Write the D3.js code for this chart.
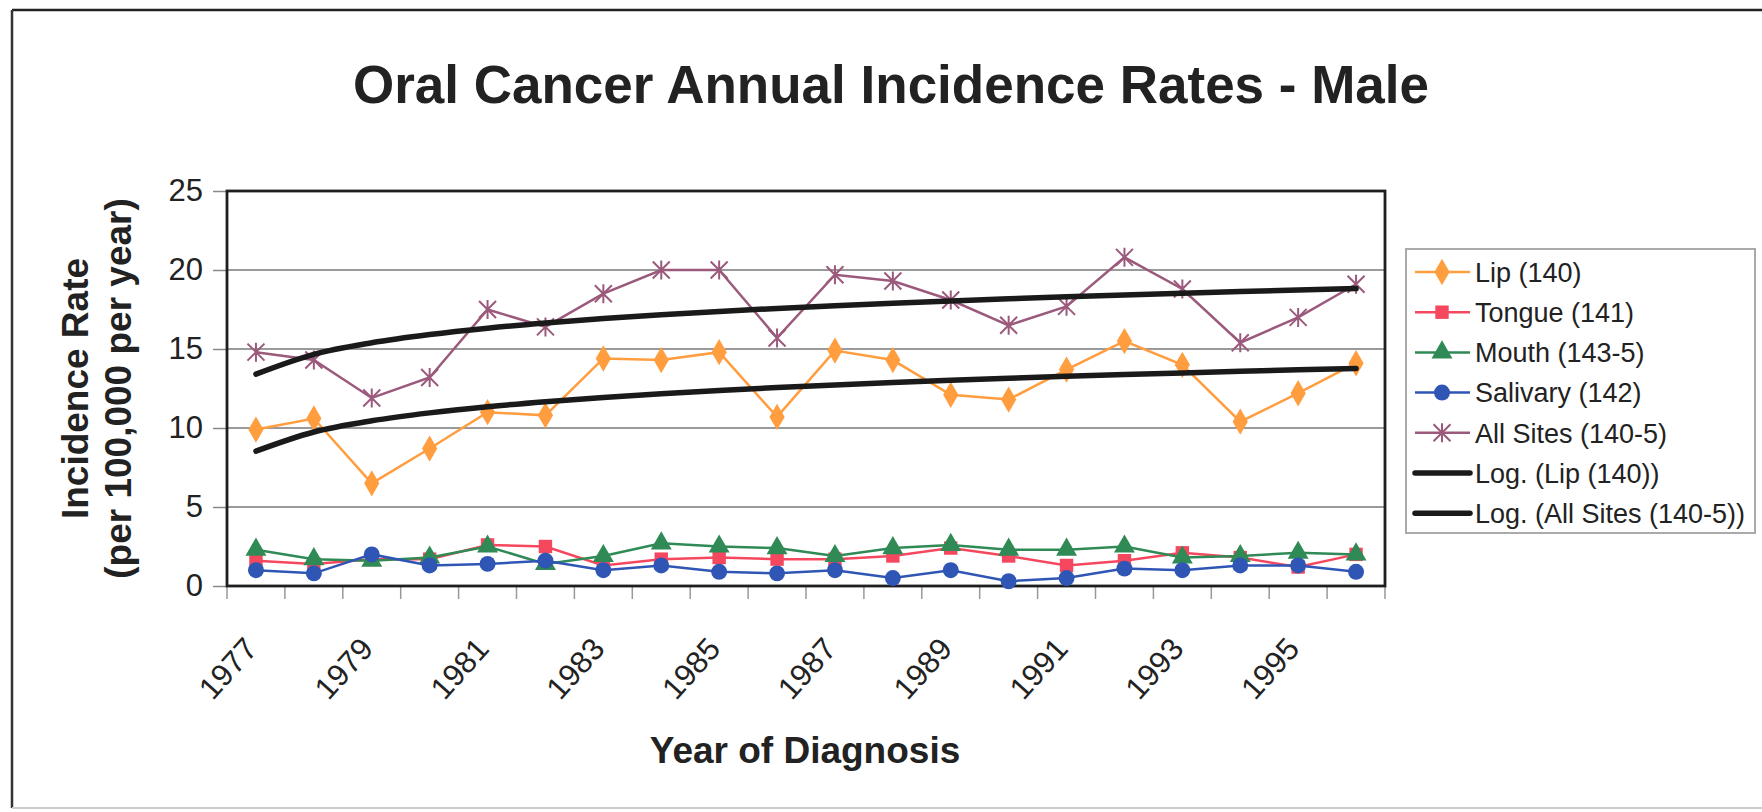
<!DOCTYPE html>
<html>
<head>
<meta charset="utf-8">
<script src="https://cdn.jsdelivr.net/npm/d3@7"></script>
<style>
  body { margin: 0; background: #fff; }
  svg { display: block; font-family: Arial, "Liberation Sans", sans-serif; }
  text { fill: #222; }
</style>
</head>
<body>
<div id="okvir"></div>
<script>
// 1. Data
const godine = [1977, 1978, 1979, 1980, 1981, 1982, 1983, 1984, 1985, 1986,
                1987, 1988, 1989, 1990, 1991, 1992, 1993, 1994, 1995, 1996]
const oznakeX = [1977, 1979, 1981, 1983, 1985, 1987, 1989, 1991, 1993, 1995]
const oznakeY = [0, 5, 10, 15, 20, 25]

const lip      = [9.9, 10.6, 6.5, 8.7, 11.0, 10.8, 14.4, 14.3, 14.8, 10.7, 14.9, 14.3, 12.1, 11.8, 13.7, 15.5, 14.0, 10.4, 12.2, 14.1]
const tongue   = [1.6, 1.4, 1.7, 1.7, 2.6, 2.5, 1.3, 1.7, 1.8, 1.7, 1.7, 1.9, 2.4, 1.9, 1.3, 1.6, 2.1, 1.8, 1.2, 2.0]
const mouth    = [2.3, 1.7, 1.6, 1.8, 2.5, 1.4, 1.9, 2.7, 2.5, 2.4, 1.9, 2.4, 2.6, 2.3, 2.3, 2.5, 1.8, 1.9, 2.1, 2.0]
const salivary = [1.0, 0.8, 2.0, 1.3, 1.4, 1.6, 1.0, 1.3, 0.9, 0.8, 1.0, 0.5, 1.0, 0.3, 0.5, 1.1, 1.0, 1.3, 1.3, 0.9]
const allSites = [14.8, 14.3, 11.9, 13.2, 17.5, 16.4, 18.5, 20.0, 20.0, 15.7, 19.7, 19.3, 18.1, 16.5, 17.7, 20.8, 18.8, 15.4, 17.0, 19.1]

const serije = [
  { ime: "Lip (140)",          vrijednosti: lip,      boja: "#ff9d3f", oblik: "diamond" },
  { ime: "Tongue (141)",       vrijednosti: tongue,   boja: "#f5485f", oblik: "square" },
  { ime: "Mouth (143-5)",      vrijednosti: mouth,    boja: "#2f8a55", oblik: "triangle" },
  { ime: "Salivary (142)",     vrijednosti: salivary, boja: "#2f55b5", oblik: "circle" },
  { ime: "All Sites (140-5)",  vrijednosti: allSites, boja: "#9b5a7c", oblik: "star" },
]

// logarithmic trendline (least squares on ln(x), x = 1..n), like Excel
function logTrend(vals) {
  const xs = vals.map((v, i) => Math.log(i + 1))
  const mx = d3.mean(xs), my = d3.mean(vals)
  const a = d3.sum(xs, (x, i) => (x - mx) * (vals[i] - my)) / d3.sum(xs, x => (x - mx) ** 2)
  const b = my - a * mx
  return vals.map((v, i) => a * Math.log(i + 1) + b)
}
const trendovi = [
  { ime: "Log. (Lip (140))",          vrijednosti: logTrend(lip) },
  { ime: "Log. (All Sites (140-5))",  vrijednosti: logTrend(allSites) },
]

// 2. Dimensions
const dim = {
  sirina: 1762,
  visina: 812,
  graf: { left: 227, right: 1385, top: 191, bottom: 586 },
}

const svg = d3.select("#okvir")
  .append("svg")
  .attr("width", dim.sirina)
  .attr("height", dim.visina)

// outer frame of the chart
svg.append("line").attr("x1", 12).attr("x2", dim.sirina).attr("y1", 10).attr("y2", 10)
  .attr("stroke", "#222").attr("stroke-width", 2.5)
svg.append("line").attr("x1", 12).attr("x2", 12).attr("y1", 10).attr("y2", 808)
  .attr("stroke", "#333").attr("stroke-width", 2.5)
svg.append("line").attr("x1", 12).attr("x2", dim.sirina).attr("y1", 808).attr("y2", 808)
  .attr("stroke", "#ccc").attr("stroke-width", 2)

// 3. Scales
const xSkala = d3.scaleBand()
  .domain(godine)
  .range([dim.graf.left, dim.graf.right])
  .padding(0)
const xSredina = d => xSkala(d) + xSkala.bandwidth() / 2

const ySkala = d3.scaleLinear()
  .domain([0, 25])
  .range([dim.graf.bottom, dim.graf.top])

// gridlines
svg.append("g")
  .selectAll("line")
  .data(oznakeY.filter(v => v > 0 && v < 25))
  .join("line")
  .attr("x1", dim.graf.left).attr("x2", dim.graf.right)
  .attr("y1", d => ySkala(d)).attr("y2", d => ySkala(d))
  .attr("stroke", "#9a9a9a").attr("stroke-width", 1.8)

// y axis
const yOs = svg.append("g")
  .attr("transform", `translate(${dim.graf.left},0)`)
  .call(d3.axisLeft(ySkala).tickValues(oznakeY).tickSize(14).tickPadding(10))
yOs.select(".domain").remove()
yOs.selectAll(".tick line").attr("stroke", "#888").attr("stroke-width", 1.5)
yOs.selectAll(".tick text").attr("font-size", 31).attr("fill", "#222")
  .attr("font-family", "Arial, 'Liberation Sans', sans-serif")

// x axis ticks on category borders
const granice = godine.map(g => xSkala(g)).concat([xSkala.range()[1]])
svg.append("g")
  .selectAll("line")
  .data(granice)
  .join("line")
  .attr("x1", d => d).attr("x2", d => d)
  .attr("y1", dim.graf.bottom).attr("y2", dim.graf.bottom + 13)
  .attr("stroke", "#999").attr("stroke-width", 1.5)

svg.append("g")
  .selectAll("text")
  .data(oznakeX)
  .join("text")
  .attr("transform", d => `translate(${xSredina(d) + 3},${dim.graf.bottom + 64}) rotate(-48)`)
  .attr("text-anchor", "end")
  .attr("font-size", 31)
  .text(d => d)

// plot frame
svg.append("rect")
  .attr("x", dim.graf.left).attr("y", dim.graf.top)
  .attr("width", dim.graf.right - dim.graf.left)
  .attr("height", dim.graf.bottom - dim.graf.top)
  .attr("fill", "none").attr("stroke", "#1e1e1e").attr("stroke-width", 2.8)

// 4. Series
const linija = d3.line()
  .x((d, i) => xSredina(godine[i]))
  .y(d => ySkala(d))

function marker(sel, oblik, boja) {
  if (oblik === "star") {
    const r = 8.5
    sel.append("path")
      .attr("d", `M${-r},${-r}L${r},${r}M${-r},${r}L${r},${-r}M0,${-r - 1}L0,${r + 1}`)
      .attr("stroke", boja).attr("stroke-width", 2).attr("fill", "none")
  } else {
    const tip = { diamond: d3.symbolDiamond, square: d3.symbolSquare,
                  triangle: d3.symbolTriangle, circle: d3.symbolCircle }[oblik]
    const vel = { diamond: 200, square: 180, triangle: 190, circle: 200 }[oblik]
    sel.append("path")
      .attr("d", d3.symbol(tip, vel)())
      .attr("fill", boja)
  }
}

const serijeG = svg.append("g")
serije.forEach(s => {
  const g = serijeG.append("g")
  g.append("path")
    .datum(s.vrijednosti)
    .attr("d", linija)
    .attr("fill", "none")
    .attr("stroke", s.boja)
    .attr("stroke-width", 2.5)
  g.selectAll("g.tocka")
    .data(s.vrijednosti)
    .join("g")
    .attr("class", "tocka")
    .attr("transform", (d, i) => `translate(${xSredina(godine[i])},${ySkala(d)})`)
    .each(function () { marker(d3.select(this), s.oblik, s.boja) })
})

// trendlines
trendovi.forEach(t => {
  svg.append("path")
    .datum(t.vrijednosti)
    .attr("d", linija.curve(d3.curveMonotoneX))
    .attr("fill", "none")
    .attr("stroke", "#1a1a1a")
    .attr("stroke-width", 5.5)
    .attr("stroke-linecap", "round")
})

// 5. Titles
svg.append("text")
  .attr("x", 891).attr("y", 103)
  .attr("text-anchor", "middle")
  .attr("font-size", 53).attr("font-weight", "bold")
  .text("Oral Cancer Annual Incidence Rates - Male")

svg.append("text")
  .attr("x", 805).attr("y", 763)
  .attr("text-anchor", "middle")
  .attr("font-size", 37).attr("font-weight", "bold")
  .text("Year of Diagnosis")

const yNaslov = svg.append("text")
  .attr("transform", `translate(88,${(dim.graf.top + dim.graf.bottom) / 2}) rotate(-90)`)
  .attr("text-anchor", "middle")
  .attr("font-size", 37).attr("font-weight", "bold")
yNaslov.append("tspan").attr("x", 0).attr("y", 0).text("Incidence Rate")
yNaslov.append("tspan").attr("x", 0).attr("y", 43).text("(per 100,000 per year)")

// 6. Legend
const legenda = svg.append("g").attr("transform", "translate(1406,249)")
legenda.append("rect")
  .attr("width", 349).attr("height", 284)
  .attr("fill", "#fff").attr("stroke", "#aaa").attr("stroke-width", 2)

const stavke = serije.map(s => ({ ...s, trend: false }))
  .concat(trendovi.map(t => ({ ime: t.ime, boja: "#1a1a1a", trend: true })))

const redovi = legenda.selectAll("g.red")
  .data(stavke)
  .join("g")
  .attr("class", "red")
  .attr("transform", (d, i) => `translate(0,${23 + i * 40.2})`)

redovi.append("line")
  .attr("x1", 9).attr("x2", 64)
  .attr("stroke", d => d.boja)
  .attr("stroke-width", d => d.trend ? 5.5 : 2.5)
  .attr("stroke-linecap", d => d.trend ? "round" : "butt")
redovi.each(function (d) {
  if (!d.trend) marker(d3.select(this).append("g").attr("transform", "translate(36,0)"), d.oblik, d.boja)
})
redovi.append("text")
  .attr("x", 69).attr("dy", "0.36em")
  .attr("font-size", 27)
  .text(d => d.ime)
</script>
</body>
</html>
